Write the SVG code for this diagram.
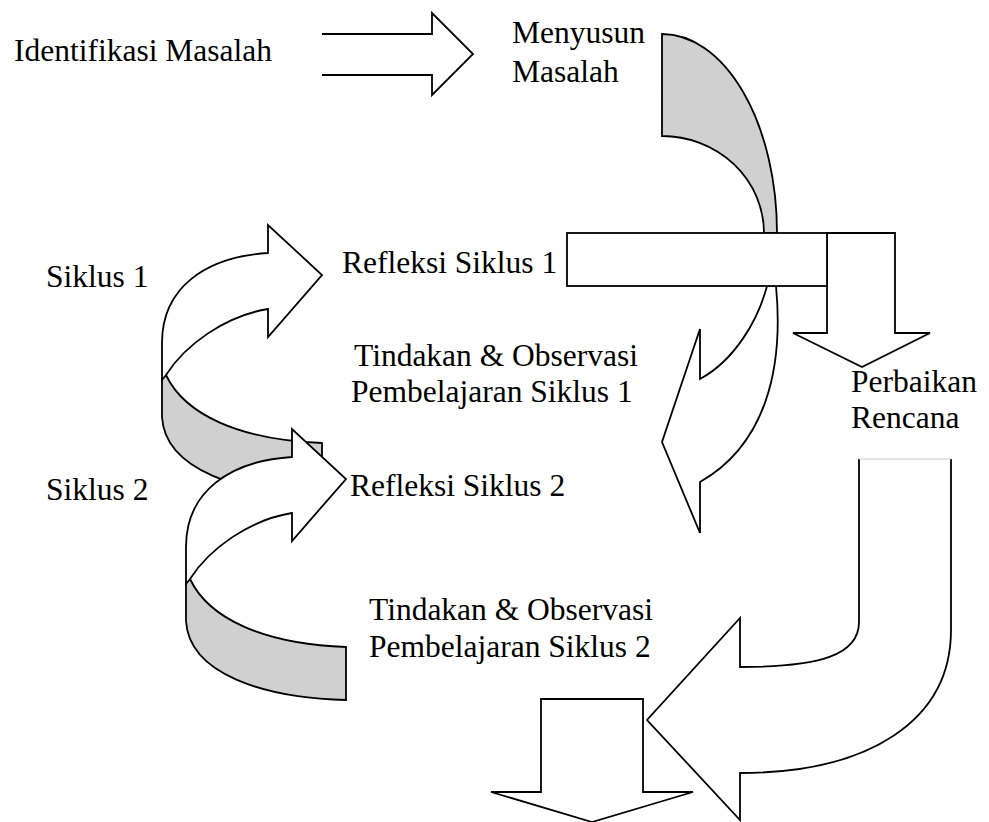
<svg xmlns="http://www.w3.org/2000/svg" xmlns:xlink="http://www.w3.org/1999/xlink" width="989" height="822" viewBox="0 0 989 822">
<style>
  .s { stroke:#000; stroke-width:1.8; stroke-linejoin:miter; }
  .w { fill:#fff; }
  .g { fill:#d0d0d0; }
  .t { font-family:"Liberation Serif","Times New Roman",serif; font-size:31.5px; fill:#000; }
</style>
<defs>
  <g id="curvedRight">
    <path class="s g" d="M166,375 C185,415 240,440 322,443 L322,496 C240,494 165,470 162,417 L162,378 Z"/>
    <path class="s w" d="M268,253 L268,225 L322,275 L268,337 L268,309 C225,316 185,345 166,375 L162,380 L162,343 C162,288 205,257 268,253 Z"/>
  </g>
</defs>
<rect width="989" height="822" fill="#fff"/>
<g id="connectors">
  <g id="arrow-top">
    <path class="s w" d="M322,34 L432,34 L432,13 L473,54 L432,95 L432,75 L322,75"/>
  </g>
  <g id="arrow-curve-down">
    <path class="s g" d="M662,34 L662,136 A102,97 0 0,1 764,233 L777,233 A115,199 0 0,0 662,34 Z"/>
    <path class="s w" d="M767,286 C758,320 735,360 700,379 L700,329 L662,442 L700,533 L700,482 C765,445 784,370 776,286 Z"/>
  </g>
  <g id="arrow-down-right">
    <path class="s w" d="M827,233 L895,233 L895,333 L930,333 L862,367 L793,333 L827,333 Z"/>
  </g>
  <g id="arrow-siklus1">
    <use xlink:href="#curvedRight"/>
  </g>
  <g id="arrow-siklus2">
    <use xlink:href="#curvedRight" transform="translate(24,204)"/>
  </g>
  <g id="arrow-u">
    <path class="s w" d="M859,459 L859,622 C859,655 820,667 740,667 L740,618 L647,720 L740,820 L740,773 C870,773 951,720 951,630 L951,459"/>
    <line x1="859" y1="459" x2="951" y2="459" stroke="#c8c8c8" stroke-width="1"/>
  </g>
  <g id="arrow-down-bottom">
    <path class="s w" d="M541,699 L643,699 L643,792 L693,792 L592,822 L491,792 L541,792 Z"/>
  </g>
</g>
<g id="node-identifikasi"><text class="t" x="14" y="61">Identifikasi Masalah</text></g>
<g id="node-menyusun"><text class="t" x="512" y="43">Menyusun</text><text class="t" x="512" y="82">Masalah</text></g>
<g id="node-refleksi1">
  <rect class="s w" x="567" y="233" width="260" height="53"/>
  <text class="t" x="342" y="273">Refleksi Siklus 1</text>
</g>
<g id="node-siklus1"><text class="t" x="46" y="287">Siklus 1</text></g>
<g id="node-tindakan1"><text class="t" x="354" y="366">Tindakan &amp; Observasi</text><text class="t" x="351" y="402">Pembelajaran Siklus 1</text></g>
<g id="node-perbaikan"><text class="t" x="851" y="392">Perbaikan</text><text class="t" x="851" y="428">Rencana</text></g>
<g id="node-refleksi2"><text class="t" x="350" y="496">Refleksi Siklus 2</text></g>
<g id="node-siklus2"><text class="t" x="46" y="500">Siklus 2</text></g>
<g id="node-tindakan2"><text class="t" x="369" y="620">Tindakan &amp; Observasi</text><text class="t" x="369" y="657">Pembelajaran Siklus 2</text></g>
</svg>
